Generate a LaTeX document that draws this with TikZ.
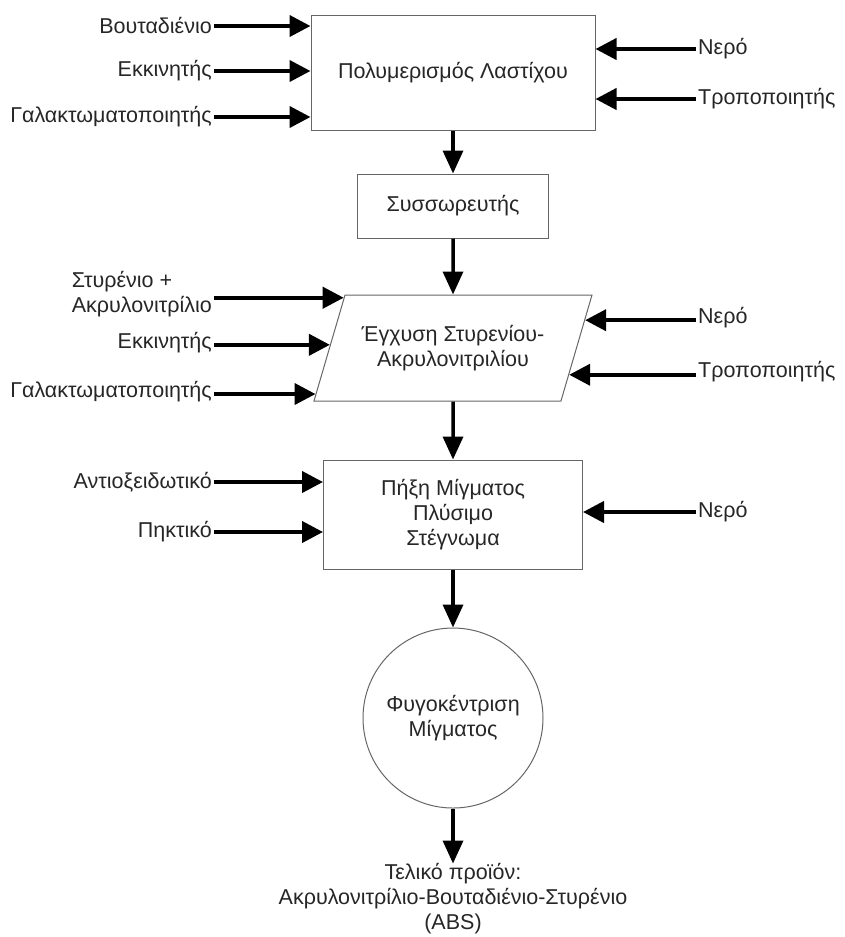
\documentclass[tikz,border=0pt]{standalone}
\usepackage{fontspec}
\setmainfont{Liberation Sans}
\usepackage{tikz}
\usetikzlibrary{arrows.meta, shapes.geometric, positioning, calc}

\begin{document}
\begin{tikzpicture}[
        x=1pt, y=-1pt,
        every node/.style={text=black!85, inner sep=2pt, font=\fontsize{21.5}{25}\selectfont},
        process/.style={rectangle, draw=black!60, line width=1pt, align=center},
        feed/.style={align=left},
        arrow/.style={line width=4pt, -{Triangle[length=21pt, width=21pt]}},
        flow/.style={line width=3.5pt, -{Triangle[length=23pt, width=20pt]}}
    ]
        \useasboundingbox (0,0) rectangle (844,937);

        % main chain
        \node (poly) [process, minimum width=284pt, minimum height=115pt] at (453,72.5) {Πολυμερισμός Λαστίχου};
        \node (sus) [process, minimum width=191pt, minimum height=64pt, below=43pt of poly] {Συσσωρευτής};
        \node (para) [trapezium, draw=black!60, line width=1pt, align=center,
            trapezium left angle=58, trapezium right angle=122, trapezium stretches body,
            minimum width=278pt, minimum height=106pt, below=56pt of sus] {Έγχυση Στυρενίου-\\Ακρυλονιτριλίου};
        \node (pix) [process, minimum width=259pt, minimum height=109pt, below=58pt of para] {Πήξη Μίγματος\\Πλύσιμο\\Στέγνωμα};
        \node (fyg) [circle, draw=black!60, line width=1pt, align=center, minimum size=180pt, below=58pt of pix] {Φυγοκέντριση\\Μίγματος};
        \node (abs) [align=center, inner sep=0pt, below=55pt of fyg] {Τελικό προϊόν:\\Ακρυλονιτρίλιο-Βουταδιένιο-Στυρένιο\\(ABS)};

        % feeds of the first stage
        \node (bout) [feed, anchor=east] at (214,26) {Βουταδιένιο};
        \node (ekk1) [feed, anchor=east] at (214,71) {Εκκινητής};
        \node (gal1) [feed, anchor=east] at (214,117) {Γαλακτωματοποιητής};
        \node (nero1) [feed, anchor=west] at (696,49) {Νερό};
        \node (trop1) [feed, anchor=west] at (696,99) {Τροποποιητής};

        % feeds of the grafting stage
        \node (styr) [feed, anchor=east] at (214,294) {Στυρένιο +\\Ακρυλονιτρίλιο};
        \node (ekk2) [feed, anchor=east] at (214,343) {Εκκινητής};
        \node (gal2) [feed, anchor=east] at (214,392) {Γαλακτωματοποιητής};
        \node (nero2) [feed, anchor=west] at (696,318) {Νερό};
        \node (trop2) [feed, anchor=west] at (696,372) {Τροποποιητής};

        % feeds of the coagulation stage
        \node (anti) [feed, anchor=east] at (214,482) {Αντιοξειδωτικό};
        \node (pik) [feed, anchor=east] at (214,532) {Πηκτικό};
        \node (nero3) [feed, anchor=west] at (696,512) {Νερό};

        % points on the slanted sides
        \coordinate (pa1) at ($(para.bottom left corner)!0.97!(para.top left corner)$);
        \coordinate (pa2) at ($(para.bottom left corner)!0.53!(para.top left corner)$);
        \coordinate (pa3) at ($(para.bottom left corner)!0.07!(para.top left corner)$);
        \coordinate (pb1) at ($(para.bottom right corner)!0.76!(para.top right corner)$);
        \coordinate (pb2) at ($(para.bottom right corner)!0.25!(para.top right corner)$);

        \draw [arrow] (bout.east) -- (bout.east -| poly.west);
        \draw [arrow] (ekk1.east) -- (ekk1.east -| poly.west);
        \draw [arrow] (gal1.east) -- (gal1.east -| poly.west);
        \draw [arrow] (nero1.west) -- (nero1.west -| poly.east);
        \draw [arrow] (trop1.west) -- (trop1.west -| poly.east);

        \draw [arrow] (styr.east |- pa1) -- (pa1);
        \draw [arrow] (ekk2.east |- pa2) -- (pa2);
        \draw [arrow] (gal2.east |- pa3) -- (pa3);
        \draw [arrow] (nero2.west |- pb1) -- (pb1);
        \draw [arrow] (trop2.west |- pb2) -- (pb2);

        \draw [arrow] (anti.east) -- (anti.east -| pix.west);
        \draw [arrow] (pik.east) -- (pik.east -| pix.west);
        \draw [arrow] (nero3.west) -- (nero3.west -| pix.east);

        \draw [flow] (poly) -- (sus);
        \draw [flow] (sus) -- (para);
        \draw [flow] (para) -- (pix);
        \draw [flow] (pix) -- (fyg);
        \draw [flow] (fyg) -- (abs);
    \end{tikzpicture}
\end{document}
